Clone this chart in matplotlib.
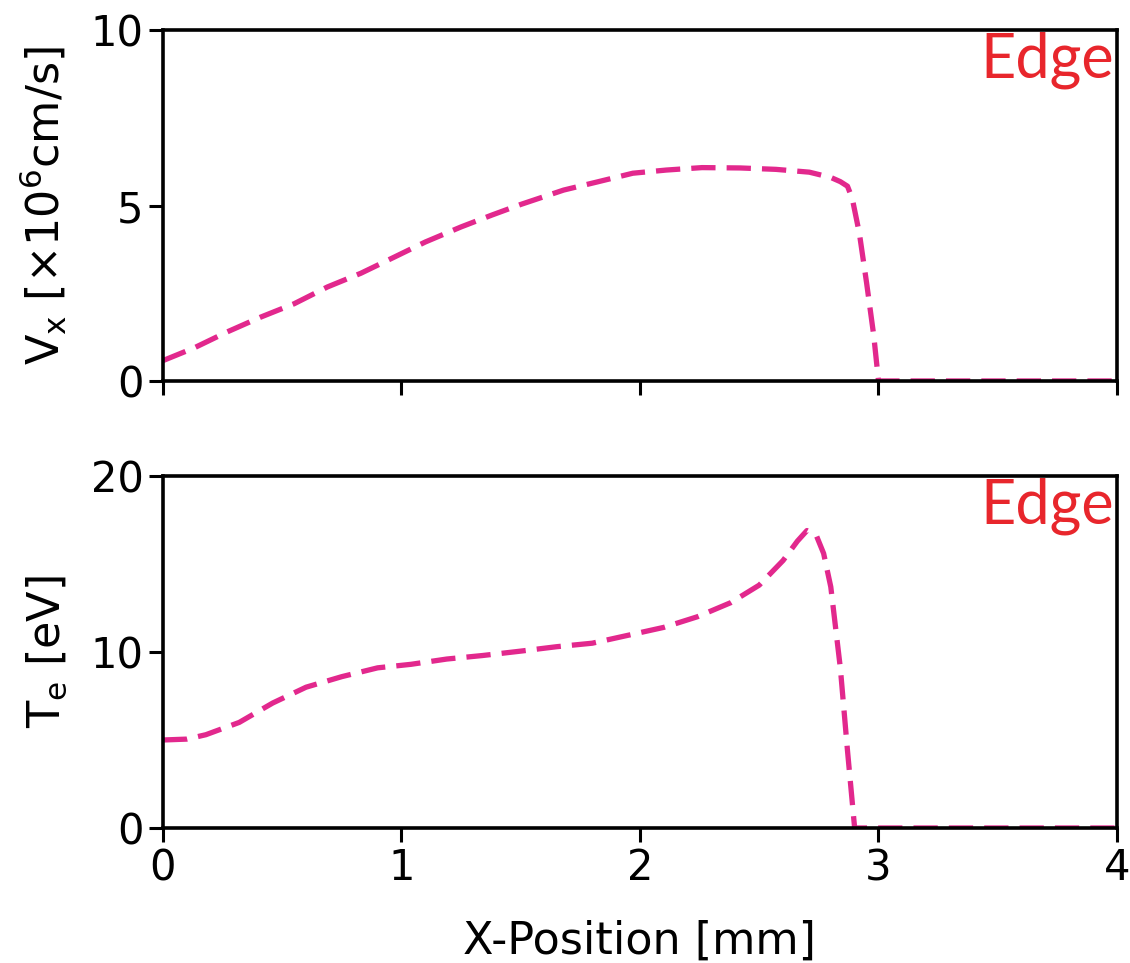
import matplotlib
matplotlib.use('Agg')
import matplotlib.pyplot as plt

# =============================================================================
# Data
# =============================================================================

# Vx [x10^6 cm/s] vs X-position [mm]
x_vx = [0.0, 0.13, 0.27, 0.41, 0.55, 0.69, 0.83, 0.97, 1.10, 1.25, 1.38, 1.50,
        1.68, 1.82, 1.97, 2.11, 2.26, 2.42, 2.57, 2.71, 2.80, 2.84, 2.87, 2.89,
        2.92, 2.95, 2.98, 3.00, 3.5, 4.0]
vx = [0.58, 0.94, 1.40, 1.82, 2.20, 2.68, 3.07, 3.53, 3.96, 4.39, 4.73, 5.03,
      5.44, 5.67, 5.92, 6.01, 6.08, 6.07, 6.03, 5.95, 5.80, 5.68, 5.55, 5.20,
      4.20, 2.80, 1.30, 0.0, 0.0, 0.0]

# Te [eV] vs X-position [mm]
x_te = [0.0, 0.10, 0.18, 0.32, 0.46, 0.60, 0.75, 0.90, 1.04, 1.19, 1.34, 1.50,
        1.65, 1.80, 1.95, 2.10, 2.24, 2.38, 2.50, 2.60, 2.66, 2.70, 2.74, 2.77,
        2.80, 2.84, 2.87, 2.90, 3.5, 4.0]
te = [5.0, 5.05, 5.3, 6.0, 7.1, 8.0, 8.6, 9.1, 9.3, 9.6, 9.8, 10.05,
      10.3, 10.5, 10.95, 11.4, 12.0, 12.8, 13.8, 15.2, 16.3, 16.9, 16.6, 15.6,
      13.7, 9.1, 4.4, 0.0, 0.0, 0.0]

line_color = '#E2288D'
edge_color = '#E8262C'

# =============================================================================
# Plotting
# =============================================================================

fig = plt.figure(figsize=(11.3, 9.63), dpi=100)
ax1 = fig.add_axes([0.1442, 0.6044, 0.8443, 0.3644])
ax2 = fig.add_axes([0.1442, 0.1402, 0.8443, 0.3655], sharex=ax1)

ax1.plot(x_vx, vx, '--', color=line_color, linewidth=3.8, dashes=(4.6, 2.1))
ax2.plot(x_te, te, '--', color=line_color, linewidth=3.8, dashes=(4.6, 2.1))

ax1.set_xlim(0, 4)
ax1.set_ylim(0, 10)
ax1.set_yticks([0, 5, 10])
ax2.set_ylim(0, 20)
ax2.set_yticks([0, 10, 20])
ax2.set_xticks([0, 1, 2, 3, 4])

ax1.set_ylabel(r'V$_\mathrm{x}$ [×10$^6$cm/s]', fontsize=32)
ax2.set_ylabel(r'T$_\mathrm{e}$ [eV]', fontsize=32)
ax2.set_xlabel('X-Position [mm]', fontsize=32, labelpad=22)
ax1.yaxis.set_label_coords(-0.098, 0.5)
ax2.yaxis.set_label_coords(-0.098, 0.5)

for ax in (ax1, ax2):
    ax.tick_params(direction='out', length=10, width=2.2, labelsize=30, pad=4)
    for sp in ax.spines.values():
        sp.set_linewidth(2.6)
    ax.text(0.997, 0.995, 'Edge', transform=ax.transAxes, ha='right', va='top',
            color=edge_color, fontsize=44, family=['Lato', 'DejaVu Sans'])
plt.setp(ax1.get_xticklabels(), visible=False)

fig.savefig('out.png', dpi=100)
